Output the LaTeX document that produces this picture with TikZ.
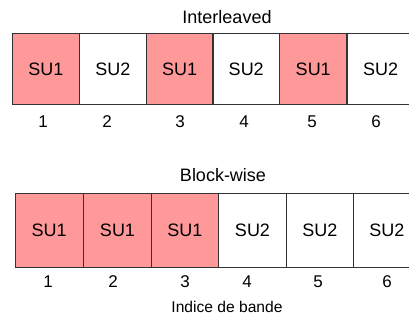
\documentclass[tikz,border=0pt]{standalone}
\usepackage{fontspec}
\setmainfont{Liberation Sans}
\usetikzlibrary{positioning}
\definecolor{supink}{HTML}{FF9999}
\definecolor{edgegray}{HTML}{333333}

\begin{document}
\begin{tikzpicture}[
    x=1pt, y=-1pt,
    band/.style={rectangle, draw=edgegray, line width=0.9pt, anchor=north west, minimum width=67pt, minimum height=70.7pt, inner sep=0pt, font=\fontsize{18}{20}\selectfont},
    bandsu/.style={band, fill=supink},
    idx/.style={anchor=base, font=\fontsize{17}{20}\selectfont},
    heading/.style={anchor=base, font=\fontsize{18}{20}\selectfont}
]
\useasboundingbox (0,0) rectangle (409,320);
\clip (0,0) rectangle (409,320);
% Interleaved
\node[heading] (inter) at (227,24) {Interleaved};
\foreach \i/\x/\n/\t/\s in {1/12/43/SU1/bandsu, 2/79/107/SU2/band, 3/145.7/180/SU1/bandsu, 4/212.3/244/SU2/band, 5/279.3/312/SU1/bandsu, 6/346.7/376/SU2/band}{
    \node[\s] (a\i) at (\x,33.3) {\t};
    \node[idx] (na\i) at (\n,128) {\i};
}
% Block-wise
\node[heading] (block) at (223,182) {Block-wise};
\foreach \i/\x/\n/\t/\s in {1/15/48/SU1/bandsu, 2/83.3/113/SU1/bandsu, 3/150.7/185/SU1/bandsu, 4/218.3/247/SU2/band, 5/285.7/318/SU2/band, 6/352.7/387/SU2/band}{
    \node[\s, minimum width=67.5pt, minimum height=73.4pt] (b\i) at (\x,193.3) {\t};
    \node[idx] (nb\i) at (\n,287) {\i};
}
\node[heading, font=\fontsize{15.6}{18}\selectfont] (axis) at (227,312) {Indice de bande};
\end{tikzpicture}
\end{document}
